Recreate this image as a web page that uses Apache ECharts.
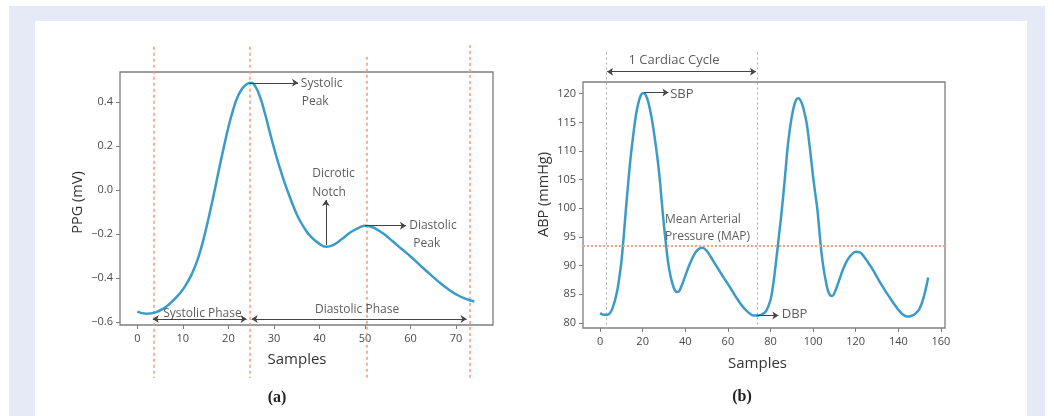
<!DOCTYPE html>
<html><head><meta charset="utf-8">
<script src="https://cdn.jsdelivr.net/npm/echarts@6/dist/echarts.min.js"></script>
<style>
html,body{margin:0;padding:0;background:#fff;}
#bg{position:absolute;left:9px;top:6px;width:1036px;height:410px;background:#e6eaf6;}
#panel{position:absolute;left:35px;top:21px;width:992px;height:395px;background:#fff;}
#chart{position:absolute;left:0;top:0;width:1054px;height:416px;}
</style></head><body>
<div id="bg"></div><div id="panel"></div><div id="chart"></div>
<script>
// ---------- data ----------
const ppgSamples = [0,2,4,6,7,8,9,10,11,12,13,14,15,16,17,18,19,20,21,22,23,24,25,26,27,28,29,30,31,32,33,34,35,36,37,38,40,41.5,43,45,47,49,50,51,52,54,56,58,60,62,64,66,68,70,72,74];
const ppgValues  = [-0.553,-0.562,-0.556,-0.535,-0.519,-0.5,-0.478,-0.452,-0.42,-0.38,-0.33,-0.265,-0.185,-0.095,0.0,0.1,0.195,0.285,0.362,0.422,0.46,0.481,0.487,0.468,0.42,0.35,0.27,0.192,0.12,0.055,-0.005,-0.06,-0.11,-0.15,-0.183,-0.21,-0.245,-0.258,-0.25,-0.222,-0.19,-0.168,-0.163,-0.165,-0.172,-0.198,-0.232,-0.267,-0.302,-0.34,-0.378,-0.414,-0.447,-0.474,-0.494,-0.507];

const abpSamples = [0,2,4,6,8,9,10,11,12,13,14,15,16,17,18,19,20,21,22,23,24,25,26,27,28,29,30,31,32,33,34,35,36,37,38,40,42,44,46,48,50,52,54,56,58,60,62,64,66,68,70,72,74,76,78,80,81,82,83,84,85,86,87,88,89,90,91,92,93,94,95,96,97,98,99,100,101,102,103,104,105,106,107,108,109,110,112,114,116,118,120,122,124,126,128,130,132,134,136,138,140,142,144,146,148,150,152,154];
const abpValues  = [81.7,81.4,81.5,82.7,85.5,87.8,90.6,94.6,99.2,103.5,107.6,111,114,116.6,118.4,119.6,120.1,120,119.3,118,116.2,114,111.4,108.6,105.2,101,97,93.5,90.4,88.3,86.8,85.8,85.4,85.5,86.2,88.2,90.2,91.8,92.8,93.1,92.6,91.5,90.3,89.1,87.9,86.8,85.6,84.4,83.3,82.4,81.7,81.3,81.3,81.5,82.1,84,86,88.8,92,95.3,98.6,102.3,106.3,110.5,113.6,116,117.8,118.9,119.2,118.9,118,116.6,114.8,112,108.8,105.5,102.6,99.8,95.8,92,89.3,87.2,85.6,84.8,84.7,85.2,87.2,89.3,90.9,91.9,92.4,92.3,91.5,90.4,89.3,88,86.7,85.5,84.4,83.3,82.3,81.5,81.1,81.2,81.6,82.5,84.6,87.9];

const ppgXTicks = [0,10,20,30,40,50,60,70];
const ppgYTicks = [-0.6,-0.4,-0.2,0,0.2,0.4];
const abpXTicks = [0,20,40,60,80,100,120,140,160];
const abpYTicks = [80,85,90,95,100,105,110,115,120];

const phaseLines = [3.7, 24.75, 50.4, 73.1];   // sample positions of phase markers
const cycleBounds = [2.8, 73.6];                // one cardiac cycle (samples)
const mapValue = 93.5;                          // mean arterial pressure

// ---------- layout ----------
const L  = {left:120, top:72, width:373, height:253};
const LO = {left:120, top:38, width:373, height:350};
const R  = {left:583, top:82, width:362, height:246};
const RO = {left:583, top:38, width:362, height:300};
const ppgXRange = [-3.8, 78.1], ppgYRange = [-0.6136, 0.5364];
const abpXRange = [-8, 161.9],  abpYRange = [79.1, 122.05];
function overlayRange(main, over, r){
  const k = (r[1]-r[0]) / main.height;
  return [r[0] - ((over.top+over.height)-(main.top+main.height))*k, r[1] + (main.top-over.top)*k];
}
const ppgOver = overlayRange(L, LO, ppgYRange);
const abpOver = overlayRange(R, RO, abpYRange);

// ---------- annotation placements (in data units) ----------
const phaseTop = [0.651, 0.651, 0.606, 0.659], phaseBottom = -0.855;
const cycleTop = 127.2;
const ppgArrows = [
  [[24.6,0.487],[35.3,0.487]],
  [[41.4,-0.25],[41.4,-0.045]],
  [[50,-0.162],[59.0,-0.162]]
];
const ppgDoubleArrows = [
  [[3.4,-0.586],[24.0,-0.586]],
  [[25.1,-0.586],[72.3,-0.586]]
];
const ppgTexts = [
  ['Systolic',35.9,0.485],['Peak',36.1,0.401],
  ['Dicrotic',38.4,0.073],['Notch',38.4,-0.011],
  ['Diastolic',59.7,-0.162],['Peak',60.6,-0.245],
  ['Systolic Phase',5.7,-0.56],['Diastolic Phase',39.0,-0.545]
];
const abpArrows = [
  [[20.5,120.2],[32.1,120.2]],
  [[73.6,81.3],[83.7,81.3]]
];
const abpDoubleArrows = [[[3.3,123.85],[73.2,123.85]]];
const abpTexts = [
  ['SBP',32.9,119.9,'left',13],['DBP',85.3,81.45,'left',13],
  ['Mean Arterial',30.5,98.05,'left',12],['Pressure (MAP)',30.5,95.1,'left',12],
  ['1 Cardiac Cycle',34.7,125.9,'center',13]
];

const FONT = 'Open Sans';
const frame = '#7d7d7d';
function mainX(grid, range, ticks, nameGap, pad){
  return {gridIndex:grid, type:'value', min:range[0], max:range[1],
    name:'Samples', nameLocation:'middle', nameGap:nameGap,
    nameTextStyle:{fontSize:15, color:'#333', fontFamily:FONT, padding:pad},
    splitLine:{show:false}, axisLine:{show:false, onZero:false},
    axisTick:{show:true, length:4, customValues:ticks, lineStyle:{color:frame}},
    axisLabel:{customValues:ticks, color:'#4a4a4a', fontSize:11, fontFamily:FONT, margin:8}};
}
function mainY(grid, range, ticks, name, nameGap, pad, fmt){
  return {gridIndex:grid, type:'value', min:range[0], max:range[1],
    name:name, nameLocation:'middle', nameGap:nameGap,
    nameTextStyle:{fontSize:14.5, color:'#333', fontFamily:FONT, padding:pad},
    splitLine:{show:false}, axisLine:{show:false, onZero:false},
    axisTick:{show:true, length:4, customValues:ticks, lineStyle:{color:frame}},
    axisLabel:{customValues:ticks, color:'#4a4a4a', fontSize:11, fontFamily:FONT, margin:7, formatter:fmt}};
}
function hidden(grid, range){ return {gridIndex:grid, type:'value', min:range[0], max:range[1], show:false}; }

function textSeries(xi, items){
  return {type:'scatter', xAxisIndex:xi, yAxisIndex:xi, symbolSize:1, silent:true,
    itemStyle:{color:'rgba(0,0,0,0)'}, z:6,
    data: items.map(t => ({value:[t[1],t[2]], name:t[0],
      label:{show:true, position:'inside', formatter:'{b}', align:t[3]||'left', verticalAlign:'middle',
        color:'#333', fontSize:t[4]||12, fontFamily:FONT}}))};
}
function arrowSeries(xi, arr, sym){
  return {type:'lines', coordinateSystem:'cartesian2d', xAxisIndex:xi, yAxisIndex:xi, silent:true,
    symbol:sym, symbolSize:6, lineStyle:{color:'#444', width:1, opacity:1}, z:5,
    data: arr.map(c => ({coords:c}))};
}

const option = {
  animation:false,
  grid:[
    Object.assign({show:true, borderColor:frame, borderWidth:1.3}, L),
    Object.assign({show:true, borderColor:frame, borderWidth:1.3}, R),
    Object.assign({}, LO), Object.assign({}, RO)
  ],
  xAxis:[
    mainX(0, ppgXRange, ppgXTicks, 27, [0,19,0,0]),
    mainX(1, abpXRange, abpXTicks, 28, [0,13,0,0]),
    hidden(2, ppgXRange), hidden(3, abpXRange)
  ],
  yAxis:[
    mainY(0, ppgYRange, ppgYTicks, 'PPG (mV)', 35, [0,8,0,0], v => v.toFixed(1).replace('-','\u2212')),
    mainY(1, abpYRange, abpYTicks, 'ABP (mmHg)', 32, [0,0,0,21], v => String(v)),
    hidden(2, ppgOver), hidden(3, abpOver)
  ],
  graphic:[
    {type:'text', x:277, y:398, style:{text:'(a)', font:'bold 16px "Liberation Serif"', fill:'#222', textAlign:'center', textVerticalAlign:'middle'}},
    {type:'text', x:742, y:397, style:{text:'(b)', font:'bold 16px "Liberation Serif"', fill:'#222', textAlign:'center', textVerticalAlign:'middle'}}
  ],
  series:[
    {type:'line', xAxisIndex:0, yAxisIndex:0, data:ppgSamples.map((x,i)=>[x,ppgValues[i]]),
      smooth:0.5, showSymbol:false, silent:true, lineStyle:{color:'#3a9bc8', width:2.5}, z:3},
    {type:'line', xAxisIndex:1, yAxisIndex:1, data:abpSamples.map((x,i)=>[x,abpValues[i]]),
      smooth:0.4, showSymbol:false, silent:true, lineStyle:{color:'#3a9bc8', width:2.5}, z:3,
      markLine:{silent:true, symbol:'none', label:{show:false},
        lineStyle:{color:'#f4a582', type:[2,2], width:2}, data:[{yAxis:mapValue}]}},
    {type:'lines', coordinateSystem:'cartesian2d', xAxisIndex:2, yAxisIndex:2, silent:true, z:2,
      lineStyle:{color:'#f39a72', type:[3,3], width:1.5, opacity:1},
      data: phaseLines.map((x,i)=>({coords:[[x,phaseTop[i]],[x,phaseBottom]]}))},
    {type:'lines', coordinateSystem:'cartesian2d', xAxisIndex:3, yAxisIndex:3, silent:true, z:2,
      lineStyle:{color:'#aaaaaa', type:[2,3], width:1, opacity:1},
      data: cycleBounds.map(x=>({coords:[[x,cycleTop],[x,abpYRange[0]]]}))},
    arrowSeries(2, ppgArrows, ['none','arrow']),
    arrowSeries(2, ppgDoubleArrows, ['arrow','arrow']),
    arrowSeries(3, abpArrows, ['none','arrow']),
    arrowSeries(3, abpDoubleArrows, ['arrow','arrow']),
    textSeries(2, ppgTexts),
    textSeries(3, abpTexts)
  ]
};
const chart = echarts.init(document.getElementById('chart'), null, {renderer:'canvas'});
chart.setOption(option);
</script></body></html>
